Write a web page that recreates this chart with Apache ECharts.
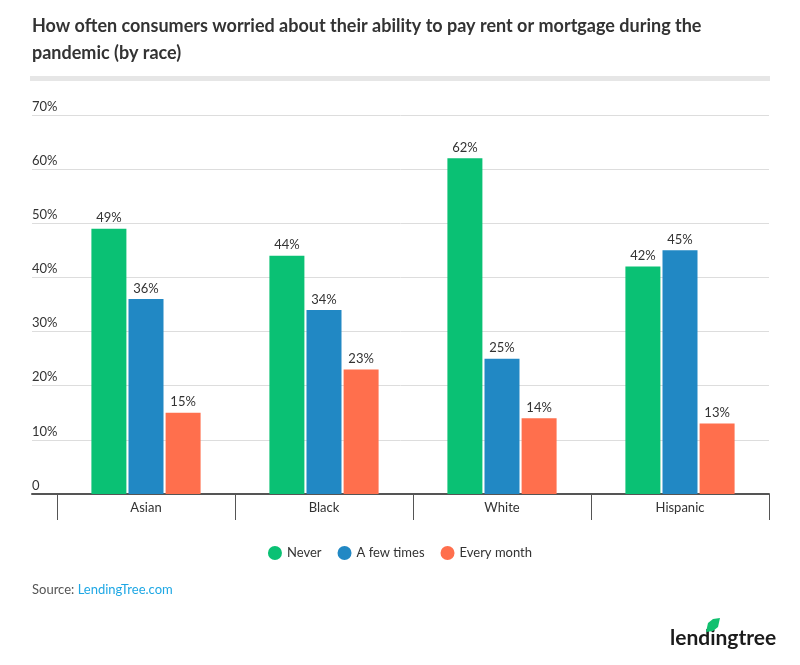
<!DOCTYPE html>
<html>
<head>
<meta charset="utf-8">
<script src="https://cdn.jsdelivr.net/npm/echarts@6/dist/echarts.min.js"></script>
<style>html,body{margin:0;padding:0;background:#fff}#c{width:800px;height:665px}</style>
</head>
<body>
<div id="c"></div>
<script>
var categories = ['Asian', 'Black', 'White', 'Hispanic'];
var never = [49, 44, 62, 42];
var fewTimes = [36, 34, 25, 45];
var everyMonth = [15, 23, 14, 13];
var seriesNames = ['Never', 'A few times', 'Every month'];
var colors = ['#0ac174', '#2188c4', '#ff6f4d'];
var FONT = 'Lato';

var chart = echarts.init(document.getElementById('c'));
function barSeries(name, data, color) {
  return {
    name: name, type: 'bar', xAxisIndex: 1, yAxisIndex: 1,
    data: data, barWidth: 35, barGap: '6%',
    itemStyle: {color: color},
    label: {show: true, position: 'top', distance: 4, formatter: '{c}%', color: '#333', fontSize: 13, fontFamily: FONT},
    emphasis: {disabled: true}
  };
}
chart.setOption({
  animation: false,
  textStyle: {fontFamily: FONT},
  title: {
    text: 'How often consumers worried about their ability to pay rent or mortgage during the\npandemic (by race)',
    left: 27, top: 8,
    textStyle: {fontSize: 18, fontWeight: 'bold', color: '#333', lineHeight: 27, fontFamily: FONT}
  },
  legend: {
    data: seriesNames, top: 541, left: 'center', icon: 'circle',
    itemWidth: 14, itemHeight: 14, itemGap: 16,
    textStyle: {fontSize: 13, color: '#333', fontFamily: FONT}
  },
  grid: [
    {left: 32, right: 31, top: 115, bottom: 171},
    {left: 57, right: 31, top: 115, bottom: 171}
  ],
  xAxis: [
    {gridIndex: 0, type: 'value', min: 0, max: 1, axisLine: {show: true, lineStyle: {color: '#555', width: 2}},
     axisTick: {show: false}, axisLabel: {show: false}, splitLine: {show: false}},
    {gridIndex: 1, type: 'category', data: categories,
     axisLine: {show: false},
     axisTick: {show: true, length: 26, lineStyle: {color: '#555', width: 1}},
     axisLabel: {color: '#333', fontSize: 13, margin: 7, fontFamily: FONT}}
  ],
  yAxis: [
    {gridIndex: 0, type: 'value', min: 0, max: 70, interval: 10,
     axisLine: {show: false}, axisTick: {show: false},
     axisLabel: {inside: true, verticalAlign: 'bottom', padding: [0, 0, 2, 0], margin: 0, color: '#333', fontSize: 13, fontFamily: FONT,
       formatter: function (v) { return v === 0 ? '0' : v + '%'; }},
     splitLine: {lineStyle: {color: '#ddd', width: 1}}},
    {gridIndex: 1, type: 'value', min: 0, max: 70, interval: 10, show: false}
  ],
  series: [
    barSeries(seriesNames[0], never, colors[0]),
    barSeries(seriesNames[1], fewTimes, colors[1]),
    barSeries(seriesNames[2], everyMonth, colors[2])
  ],
  graphic: [
    {type: 'rect', left: 30, top: 76, shape: {width: 740, height: 5}, style: {fill: '#e6e6e6'}},
    {type: 'text', left: 32, top: 583, style: {
      text: '{a|Source: }{b|LendingTree.com}',
      rich: {a: {fontSize: 13, fill: '#555', color: '#555', fontFamily: FONT}, b: {fontSize: 13, fill: '#1ea7e4', color: '#1ea7e4', fontFamily: FONT}}
    }},
    {type: 'text', left: 670, top: 628, style: {text: 'lendingtree', fontSize: 21, fontWeight: 'bold', fill: '#1b1b1b', fontFamily: FONT}},
    {type: 'polygon', left: 706, top: 618, shape: {points: [[0, 14], [2, 5], [7, 1], [14, 0], [12, 9], [7, 13]]}, style: {fill: '#11c06f'}}
  ]
});
</script>
</body>
</html>
